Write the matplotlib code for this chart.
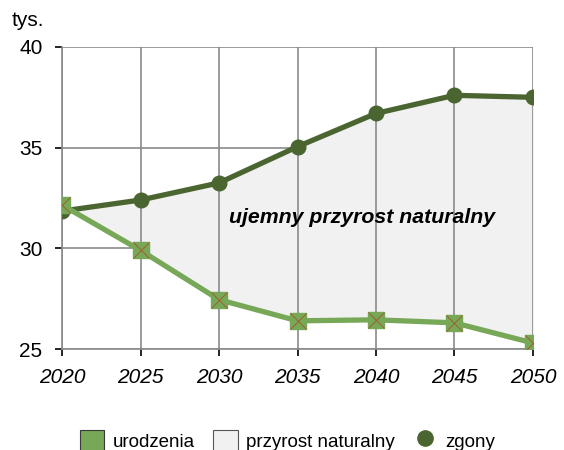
import matplotlib.pyplot as plt
from matplotlib.patches import Patch
from matplotlib.lines import Line2D

plt.rcParams['font.family'] = ['Liberation Sans', 'DejaVu Sans']

years = [2020, 2025, 2030, 2035, 2040, 2045, 2050]
urodzenia = [32.15, 29.9, 27.45, 26.4, 26.45, 26.3, 25.3]
zgony = [31.85, 32.4, 33.25, 35.05, 36.7, 37.6, 37.5]
y_ticks = [25, 30, 35, 40]

light_green = "#76a857"
dark_green = "#4a6530"
fill_grey = "#f1f1f1"
grid_grey = "#8a8a8a"

fig = plt.figure(figsize=(5.64, 4.5), dpi=100)
ax = fig.add_axes([0.11, 0.2244, 0.835, 0.6712])

# horizontal grid sits under the fill, vertical grid on top of it
for y in y_ticks:
    ax.axhline(y, color=grid_grey, lw=1.2, zorder=0)
ax.fill_between(years, urodzenia, zgony, color=fill_grey, zorder=1)
for x in years:
    ax.axvline(x, color=grid_grey, lw=1.2, zorder=2)

ax.plot(years, zgony, color=dark_green, lw=3.8, marker="o", ms=10.5,
        markerfacecolor=dark_green, markeredgecolor=dark_green, zorder=3)
ax.plot(years, urodzenia, color=light_green, lw=3.8, marker="s", ms=12,
        markerfacecolor=light_green, markeredgecolor=light_green, zorder=4)
ax.plot(years, urodzenia, ls="none", marker="x", ms=11, mew=0.7,
        color="#a0602a", zorder=5)

ax.set_xlim(2020, 2050)
ax.set_ylim(25, 40)
ax.set_xticks(years)
ax.set_yticks(y_ticks)
ax.set_xticklabels([str(y) for y in years], fontsize=15, style="italic")
ax.set_yticklabels([str(y) for y in y_ticks], fontsize=15)
ax.tick_params(axis="x", direction="out", length=5, width=1.2, pad=9, colors="black")
ax.tick_params(axis="y", direction="out", length=5, width=1.2, pad=9, colors="black")
for s in ax.spines.values():
    s.set_color(grid_grey)
    s.set_linewidth(1.2)
ax.spines["top"].set_visible(False)
ax.spines["right"].set_visible(False)

ax.text(2039.1, 31.55, "ujemny przyrost naturalny", fontsize=15.3,
        fontweight="bold", style="italic", ha="center", va="center", zorder=6)

fig.text(0.05, 0.955, "tys.", fontsize=15, ha="center", va="center")

handles = [
    Patch(facecolor=light_green, edgecolor="#3a3a3a", lw=0.8, label="urodzenia"),
    Patch(facecolor=fill_grey, edgecolor="#555555", lw=0.8, label="przyrost naturalny"),
    Line2D([], [], ls="none", marker="o", ms=11, color=dark_green, label="zgony"),
]
fig.legend(handles=handles, loc="center", bbox_to_anchor=(0.51, 0.02), ncol=3,
           frameon=False, fontsize=13.5, handlelength=1.3, handleheight=1.5,
           columnspacing=1.0, handletextpad=0.43)

fig.savefig("out.png", dpi=100)
